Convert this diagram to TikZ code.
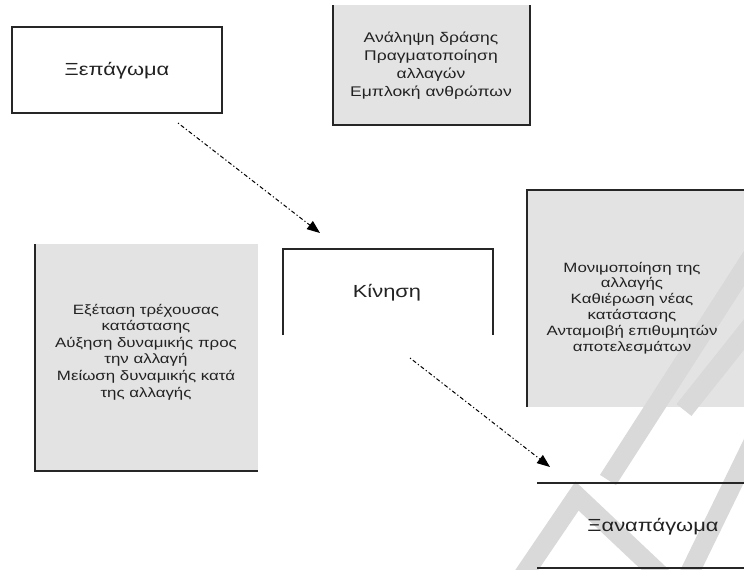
\documentclass[tikz,border=0pt]{standalone}
\usepackage{fontspec}
\setmainfont{Liberation Sans}
\newfontfamily\grfont[FakeStretch=1.25]{Liberation Sans}
\usetikzlibrary{arrows.meta}
\definecolor{boxgray}{HTML}{E3E3E3}
\definecolor{markgray}{HTML}{D9D9D9}
\definecolor{edge}{HTML}{262626}
\definecolor{ink}{HTML}{222222}
\begin{document}
\begin{tikzpicture}[x=1pt,y=-1pt,
  panel/.style={rectangle,inner sep=0pt,outer sep=0pt,draw=none},
  graypanel/.style={panel,fill=boxgray},
  bigtxt/.style={inner sep=0pt,text=ink,font=\grfont\fontsize{17.5}{20}\selectfont},
  listtxt/.style={inner sep=0pt,text=ink,align=center,font=\grfont\fontsize{13.5}{16.6}\selectfont},
  border/.style={draw=edge,line width=1.6pt},
  band/.style={draw=markgray,line width=19pt,line cap=butt,line join=miter},
  flow/.style={draw=black,line width=1pt,dash pattern=on 1.2pt off 2.4pt on 4pt off 2.4pt,
    -{Triangle[length=13pt,width=10pt]}}]
\useasboundingbox (0,0) rectangle (744,570);
\fill[white] (0,0) rectangle (744,570);

% panels
\node[panel,minimum width=210pt,minimum height=86pt] (unfreeze) at (117,70) {};
\node[graypanel,minimum width=197pt,minimum height=120pt] (act) at (431.5,65) {};
\node[graypanel,minimum width=223pt,minimum height=227pt] (prep) at (146.5,357.5) {};
\node[panel,minimum width=210pt,minimum height=86pt] (move) at (388,292) {};
\node[graypanel,minimum width=217pt,minimum height=217pt] (fix) at (635.5,298.5) {};
\node[panel,minimum width=217pt,minimum height=85pt] (refreeze) at (645.5,525.5) {};

% faint stamp in the lower right corner
\begin{scope}
\clip (0,0) rectangle (744,570);
\draw[band] (752,256) -- (608,480);
\draw[band] (754,322) -- (684,410);
\draw[band] (520,580) -- (577,496) -- (666,580);
\draw[band] (756,436) -- (686,580);
\end{scope}

% borders
\draw[border] (unfreeze.north west) rectangle (unfreeze.south east);
\draw[border] (act.north west) -- (act.south west) -- (act.south east) -- (act.north east);
\draw[border] (prep.north west) -- (prep.south west) -- (prep.south east);
\draw[border] (move.south west) -- (move.north west) -- (move.north east) -- (move.south east);
\draw[border] (fix.south west) -- (fix.north west) -- (fix.north east);
\draw[border] (refreeze.north west) -- (refreeze.north east);
\draw[border] (refreeze.south west) -- (refreeze.south east);

% texts
\node[bigtxt] (tunfreeze) at (117,71) {Ξεπάγωμα};
\node[listtxt,font=\grfont\fontsize{14}{18.2}\selectfont] (tact) at (431,65.5) {Ανάληψη δράσης\\Πραγματοποίηση\\αλλαγών\\Εμπλοκή ανθρώπων};
\node[listtxt] (tprep) at (146,352) {Εξέταση τρέχουσας\\κατάστασης\\Αύξηση δυναμικής προς\\την αλλαγή\\Μείωση δυναμικής κατά\\της αλλαγής};
\node[bigtxt] (tmove) at (387,293) {Κίνηση};
\node[listtxt,font=\grfont\fontsize{13.5}{15.9}\selectfont] (tfix) at (632,308) {Μονιμοποίηση της\\αλλαγής\\Καθιέρωση νέας\\κατάστασης\\Ανταμοιβή επιθυμητών\\αποτελεσμάτων};
\node[bigtxt] (trefreeze) at (653,527) {Ξαναπάγωμα};

% connectors
\coordinate (f1a) at (178,123);
\coordinate (f1b) at (320,233);
\coordinate (f2a) at (410,358);
\coordinate (f2b) at (550,467);
\draw[flow] (f1a) -- (f1b);
\draw[flow] (f2a) -- (f2b);
\end{tikzpicture}
\end{document}
